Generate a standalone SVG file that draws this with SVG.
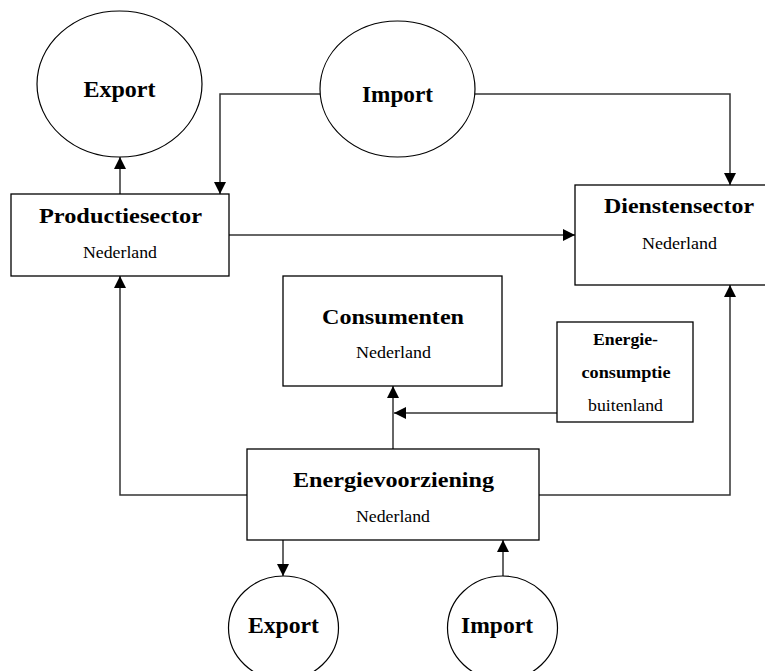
<svg xmlns="http://www.w3.org/2000/svg" width="765" height="671" viewBox="0 0 765 671">
<style>
.box{fill:#fff;stroke:#000;stroke-width:1.3}
.ell{fill:#fff;stroke:#000;stroke-width:1.2}
.t{font-family:"Liberation Serif","Times New Roman",serif;font-weight:bold;font-size:22px;text-anchor:middle;fill:#000}
.e{font-family:"Liberation Serif","Times New Roman",serif;font-weight:bold;font-size:23px;text-anchor:middle;fill:#000}
.s{font-family:"Liberation Serif","Times New Roman",serif;font-size:17px;text-anchor:middle;fill:#000}
.m{font-family:"Liberation Serif","Times New Roman",serif;font-weight:bold;font-size:17px;text-anchor:middle;fill:#000}
.c{fill:none;stroke:#333;stroke-width:1.5;marker-end:url(#ah)}
</style>
<defs>
<marker id="ah" markerUnits="userSpaceOnUse" markerWidth="12" markerHeight="12" refX="12" refY="6" orient="auto">
<path d="M0,0 L12,6 L0,12 z" fill="#000"/>
</marker>
</defs>
<g id="connectors">
<path class="c" d="M120,194 V157"/>
<path class="c" d="M320,94 H220 V194"/>
<path class="c" d="M475,94 H730 V185"/>
<path class="c" d="M229,235 H575"/>
<path class="c" d="M247,495 H120 V276"/>
<path class="c" d="M539,495 H730 V285"/>
<path class="c" d="M393,449 V386"/>
<path class="c" d="M557,413 H394"/>
<path class="c" d="M283,540 V576"/>
<path class="c" d="M503,577 V540"/>
</g>
<g id="export-top">
<ellipse class="ell" cx="119.5" cy="84" rx="82.5" ry="73"/>
<text class="e" x="119.5" y="97" textLength="72" lengthAdjust="spacingAndGlyphs">Export</text>
</g>
<g id="import-top">
<ellipse class="ell" cx="397.5" cy="89" rx="77.5" ry="68"/>
<text class="e" x="397.5" y="102" textLength="71" lengthAdjust="spacingAndGlyphs">Import</text>
</g>
<g id="productiesector">
<rect class="box" x="11" y="194" width="218" height="82"/>
<text class="t" x="120.5" y="223" textLength="163" lengthAdjust="spacingAndGlyphs">Productiesector</text>
<text class="s" x="120" y="258" textLength="74" lengthAdjust="spacingAndGlyphs">Nederland</text>
</g>
<g id="dienstensector">
<rect class="box" x="575" y="185" width="210" height="100"/>
<text class="t" x="679" y="213" textLength="150" lengthAdjust="spacingAndGlyphs">Dienstensector</text>
<text class="s" x="679.5" y="249" textLength="75" lengthAdjust="spacingAndGlyphs">Nederland</text>
</g>
<g id="consumenten">
<rect class="box" x="283" y="276" width="219" height="110"/>
<text class="t" x="393" y="324" textLength="142" lengthAdjust="spacingAndGlyphs">Consumenten</text>
<text class="s" x="393.5" y="358" textLength="75" lengthAdjust="spacingAndGlyphs">Nederland</text>
</g>
<g id="energieconsumptie">
<rect class="box" x="557" y="322" width="136" height="100"/>
<text class="m" x="625.5" y="345" textLength="65" lengthAdjust="spacingAndGlyphs">Energie-</text>
<text class="m" x="626" y="378" textLength="89" lengthAdjust="spacingAndGlyphs">consumptie</text>
<text class="s" x="625.5" y="411" textLength="75" lengthAdjust="spacingAndGlyphs">buitenland</text>
</g>
<g id="energievoorziening">
<rect class="box" x="247" y="449" width="292" height="91"/>
<text class="t" x="393.5" y="487" textLength="201" lengthAdjust="spacingAndGlyphs">Energievoorziening</text>
<text class="s" x="393" y="522" textLength="74" lengthAdjust="spacingAndGlyphs">Nederland</text>
</g>
<g id="export-bottom">
<ellipse class="ell" cx="283.5" cy="628" rx="55" ry="52"/>
<text class="e" x="283.5" y="633" textLength="71" lengthAdjust="spacingAndGlyphs">Export</text>
</g>
<g id="import-bottom">
<ellipse class="ell" cx="502.5" cy="628" rx="55" ry="52"/>
<text class="e" x="497" y="633" textLength="72" lengthAdjust="spacingAndGlyphs">Import</text>
</g>
</svg>
